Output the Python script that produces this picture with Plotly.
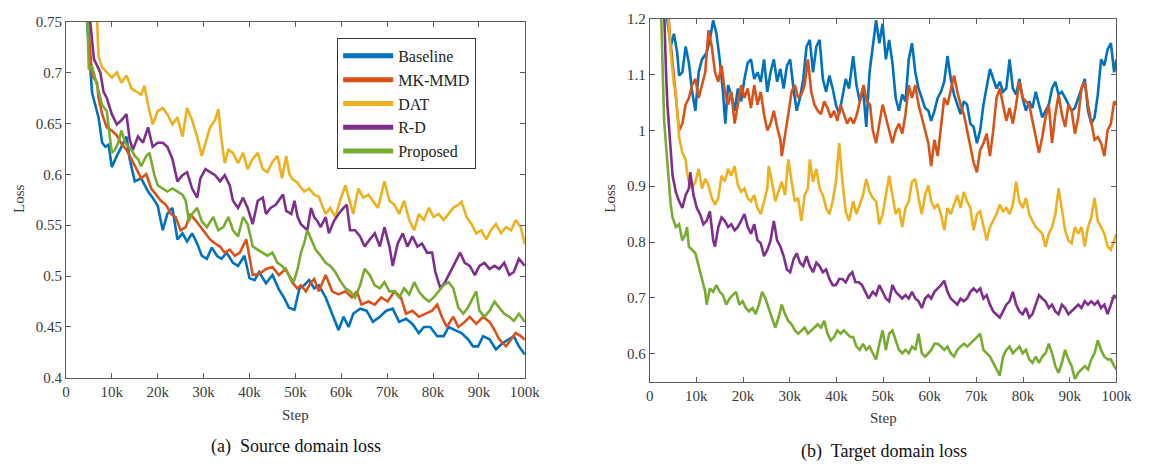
import plotly.graph_objects as go

# ---------------- data (step in thousands, loss) ----------------
series_names = ["Baseline", "MK-MMD", "DAT", "R-D", "Proposed"]
series_colors = ["#0072BD", "#D95319", "#EDB120", "#7E2F8E", "#77AC30"]

src_baseline = [(3.0,0.90),(4.6,0.750),(5.7,0.680),(7.1,0.656),(7.9,0.631),(8.6,0.627),(9.3,0.629),(10.0,0.607),(11.1,0.618),(12.1,0.627),(13.2,0.637),(13.9,0.615),(15.0,0.593),(16.4,0.596),(17.9,0.583),(18.9,0.577),(20.0,0.569),(21.1,0.545),(22.1,0.561),(23.2,0.567),(24.3,0.536),(25.4,0.542),(26.4,0.534),(27.5,0.542),(28.6,0.532),(29.6,0.520),(30.7,0.517),(31.8,0.528),(32.9,0.520),(33.9,0.517),(35.0,0.523),(36.4,0.513),(37.5,0.510),(38.9,0.520),(40.0,0.498),(41.1,0.496),(42.1,0.504),(43.6,0.493),(45.0,0.501),(46.4,0.487),(47.5,0.479),(48.6,0.469),(49.8,0.467),(50.9,0.488),(51.9,0.491),(53.0,0.496),(54.1,0.488),(55.1,0.491),(56.6,0.479),(58.0,0.463),(59.4,0.447),(60.5,0.460),(61.6,0.450),(62.6,0.463),(64.1,0.468),(65.5,0.466),(66.9,0.455),(68.4,0.460),(69.8,0.466),(71.2,0.468),(72.6,0.455),(74.1,0.458),(75.5,0.453),(76.9,0.444),(78.0,0.450),(79.4,0.450),(80.9,0.441),(82.3,0.441),(83.4,0.450),(84.8,0.447),(86.2,0.444),(87.6,0.438),(88.7,0.431),(89.8,0.431),(90.9,0.441),(92.3,0.438),(93.7,0.428),(95.1,0.434),(96.6,0.438),(97.6,0.441),(98.7,0.431),(100.0,0.423)]

src_mkmmd = [(3.0,0.90),(4.8,0.750),(5.7,0.697),(6.8,0.690),(7.1,0.675),(7.9,0.659),(8.9,0.646),(10.0,0.643),(11.1,0.638),(12.1,0.630),(13.2,0.624),(14.3,0.615),(15.4,0.605),(16.4,0.596),(17.5,0.600),(18.6,0.586),(19.6,0.580),(20.7,0.574),(21.8,0.570),(22.9,0.561),(23.9,0.558),(25.0,0.545),(26.1,0.548),(27.1,0.561),(28.2,0.555),(29.3,0.548),(30.4,0.542),(31.4,0.536),(32.5,0.532),(33.6,0.529),(34.6,0.523),(35.7,0.526),(36.8,0.520),(37.9,0.523),(39.3,0.536),(40.7,0.501),(42.1,0.502),(43.6,0.507),(45.0,0.509),(46.4,0.501),(47.9,0.507),(49.3,0.494),(50.4,0.488),(51.2,0.491),(52.3,0.485),(53.4,0.494),(54.1,0.497),(55.1,0.485),(56.6,0.501),(58.0,0.485),(59.4,0.482),(60.9,0.485),(62.3,0.479),(63.4,0.485),(64.4,0.472),(65.9,0.475),(67.3,0.472),(68.7,0.479),(70.1,0.475),(71.6,0.485),(73.0,0.479),(74.1,0.463),(75.5,0.466),(76.9,0.460),(78.4,0.463),(79.8,0.466),(80.9,0.472),(81.9,0.460),(83.0,0.450),(84.4,0.460),(85.5,0.450),(86.9,0.455),(88.0,0.460),(89.4,0.453),(90.9,0.460),(92.3,0.455),(93.4,0.447),(94.4,0.438),(95.9,0.431),(97.0,0.438),(98.0,0.444),(99.1,0.441),(100.0,0.4375)]

src_dat = [(5.5,0.90),(6.8,0.750),(7.1,0.716),(7.9,0.705),(8.9,0.700),(10.0,0.695),(11.1,0.700),(12.1,0.690),(13.2,0.697),(14.3,0.684),(15.4,0.681),(16.4,0.678),(17.1,0.687),(17.9,0.668),(18.9,0.649),(20.0,0.662),(21.1,0.665),(22.1,0.659),(23.2,0.649),(24.3,0.656),(25.4,0.637),(26.4,0.665),(27.5,0.653),(28.6,0.637),(29.6,0.618),(30.4,0.631),(31.4,0.646),(32.5,0.653),(33.2,0.664),(33.9,0.634),(34.6,0.611),(35.4,0.624),(36.4,0.621),(37.5,0.611),(38.6,0.621),(39.6,0.605),(40.7,0.615),(41.8,0.621),(42.9,0.605),(43.9,0.602),(45.0,0.612),(46.1,0.618),(47.1,0.596),(48.0,0.618),(48.7,0.600),(49.4,0.595),(50.4,0.592),(51.9,0.583),(53.0,0.586),(54.1,0.580),(55.1,0.578),(56.6,0.561),(57.6,0.567),(58.7,0.558),(59.8,0.575),(60.9,0.589),(61.6,0.577),(62.6,0.561),(63.7,0.586),(64.8,0.577),(65.9,0.580),(66.9,0.574),(68.0,0.567),(69.4,0.593),(70.5,0.574),(71.6,0.570),(72.6,0.561),(73.7,0.574),(74.8,0.555),(75.9,0.545),(76.9,0.561),(78.0,0.555),(79.1,0.567),(80.1,0.558),(81.2,0.561),(82.3,0.555),(83.4,0.561),(84.4,0.567),(85.5,0.570),(86.2,0.573),(87.3,0.558),(88.4,0.551),(89.4,0.542),(90.5,0.545),(91.6,0.536),(92.6,0.545),(93.7,0.551),(94.8,0.542),(95.9,0.548),(97.0,0.545),(98.0,0.555),(99.1,0.548),(100.0,0.531)]

src_rd = [(3.5,0.90),(5.3,0.750),(6.1,0.713),(6.8,0.706),(7.5,0.700),(8.2,0.681),(8.9,0.675),(10.0,0.659),(11.1,0.649),(12.1,0.653),(13.2,0.659),(13.9,0.634),(14.6,0.624),(15.7,0.637),(16.8,0.631),(17.9,0.646),(18.9,0.627),(20.0,0.631),(21.1,0.631),(22.1,0.627),(23.2,0.615),(24.3,0.593),(25.4,0.599),(26.4,0.602),(27.5,0.586),(28.6,0.577),(29.3,0.596),(30.4,0.605),(31.4,0.602),(32.5,0.599),(33.6,0.593),(34.6,0.599),(35.7,0.589),(36.4,0.574),(37.5,0.567),(38.6,0.577),(39.6,0.567),(40.7,0.551),(41.8,0.574),(42.9,0.577),(43.6,0.561),(44.6,0.567),(45.7,0.570),(46.8,0.577),(47.3,0.580),(48.0,0.564),(49.1,0.561),(49.8,0.574),(50.5,0.558),(51.2,0.551),(51.9,0.548),(52.6,0.545),(53.4,0.567),(54.1,0.558),(54.8,0.554),(55.5,0.548),(56.6,0.558),(57.3,0.542),(58.4,0.554),(59.4,0.561),(60.5,0.567),(61.2,0.570),(61.9,0.545),(63.0,0.545),(64.1,0.539),(65.1,0.529),(66.2,0.536),(67.3,0.542),(68.4,0.529),(69.4,0.548),(70.5,0.529),(71.2,0.510),(72.3,0.532),(73.4,0.542),(74.4,0.529),(75.5,0.539),(76.6,0.529),(77.6,0.532),(78.7,0.523),(79.8,0.523),(80.5,0.504),(81.6,0.488),(82.6,0.494),(83.7,0.504),(84.8,0.513),(85.9,0.523),(86.9,0.513),(88.0,0.510),(89.1,0.501),(90.1,0.510),(91.2,0.513),(92.3,0.507),(93.4,0.510),(94.4,0.507),(95.5,0.513),(96.6,0.501),(97.6,0.504),(98.7,0.517),(100.0,0.510)]

src_proposed = [(3.0,0.90),(4.7,0.750),(5.0,0.703),(5.7,0.706),(6.4,0.694),(7.1,0.681),(7.9,0.668),(8.9,0.662),(9.6,0.637),(10.0,0.621),(10.7,0.624),(11.4,0.631),(12.1,0.643),(12.9,0.631),(13.6,0.627),(14.3,0.624),(15.0,0.618),(15.7,0.615),(16.4,0.608),(17.5,0.618),(18.2,0.621),(19.3,0.599),(20.0,0.589),(21.1,0.586),(22.1,0.583),(23.2,0.586),(24.3,0.583),(25.4,0.580),(26.1,0.574),(26.8,0.554),(27.5,0.561),(28.6,0.567),(29.6,0.554),(30.7,0.548),(32.1,0.558),(33.2,0.545),(34.3,0.548),(35.4,0.558),(36.4,0.545),(37.5,0.539),(38.6,0.558),(39.6,0.551),(40.7,0.529),(41.8,0.526),(42.9,0.523),(43.9,0.520),(45.0,0.523),(46.1,0.513),(47.1,0.510),(48.2,0.504),(49.6,0.494),(50.5,0.507),(51.2,0.523),(51.9,0.532),(52.6,0.545),(53.4,0.536),(54.4,0.526),(55.5,0.520),(56.6,0.513),(57.6,0.510),(58.7,0.504),(59.8,0.495),(60.9,0.488),(61.9,0.485),(63.0,0.479),(64.1,0.491),(65.1,0.507),(66.2,0.501),(67.3,0.491),(68.4,0.488),(69.4,0.494),(70.5,0.485),(71.6,0.485),(72.6,0.479),(73.7,0.488),(74.8,0.482),(75.9,0.494),(76.9,0.485),(78.0,0.479),(79.1,0.475),(80.1,0.479),(81.2,0.485),(82.3,0.491),(83.4,0.494),(84.4,0.488),(85.5,0.469),(86.6,0.463),(87.6,0.469),(88.7,0.479),(89.4,0.485),(90.1,0.466),(91.2,0.460),(92.3,0.466),(93.4,0.475),(94.4,0.469),(95.5,0.463),(96.6,0.460),(97.6,0.456),(98.7,0.463),(100.0,0.455)]

tgt_baseline = [(2.5,1.35),(3.8,1.197),(4.5,1.150),(5.2,1.173),(5.9,1.139),(6.3,1.098),(7.0,1.104),(7.7,1.150),(8.4,1.121),(9.1,1.069),(9.8,1.035),(10.5,1.104),(11.2,1.127),(12.2,1.139),(12.9,1.162),(13.6,1.197),(14.3,1.173),(15.0,1.127),(15.7,1.069),(16.2,1.012),(16.8,1.081),(17.5,1.064),(18.2,1.035),(18.9,1.075),(19.6,1.052),(20.3,1.092),(21.0,1.121),(21.7,1.127),(22.4,1.092),(23.1,1.104),(23.8,1.087),(24.5,1.127),(25.2,1.069),(25.9,1.104),(26.6,1.127),(27.3,1.087),(28.0,1.110),(28.7,1.075),(29.4,1.116),(30.1,1.127),(30.8,1.075),(31.5,1.035),(32.2,1.058),(32.9,1.092),(33.6,1.150),(34.3,1.162),(35.0,1.104),(35.7,1.150),(36.4,1.162),(37.1,1.092),(37.8,1.069),(38.5,1.098),(39.2,1.075),(39.9,1.046),(40.6,1.029),(41.3,1.064),(42.0,1.092),(42.7,1.075),(43.6,1.133),(44.3,1.081),(45.0,1.052),(45.7,1.075),(46.4,1.006),(47.1,1.104),(47.8,1.150),(48.5,1.197),(49.2,1.156),(49.9,1.191),(50.6,1.127),(51.3,1.162),(52.0,1.121),(52.7,1.058),(53.4,1.035),(54.1,1.064),(54.8,1.052),(55.5,1.127),(56.2,1.156),(56.9,1.104),(57.6,1.075),(58.3,1.058),(59.0,1.040),(59.7,1.035),(60.3,1.017),(61.0,1.035),(61.7,1.058),(62.4,1.069),(63.1,1.087),(63.8,1.133),(64.5,1.092),(65.2,1.064),(65.9,1.046),(66.6,1.029),(67.3,1.052),(68.0,1.046),(68.7,1.012),(69.4,1.006),(70.1,0.977),(70.8,1.000),(71.5,1.046),(72.2,1.075),(72.9,1.110),(73.6,1.092),(74.3,1.075),(75.0,1.087),(75.7,1.069),(76.4,1.075),(77.1,1.127),(77.8,1.075),(78.5,1.064),(79.2,1.092),(79.9,1.058),(80.6,1.035),(81.3,1.052),(82.0,1.040),(82.7,1.069),(83.4,1.046),(84.1,1.023),(84.8,1.035),(85.5,1.046),(86.2,1.075),(86.9,1.087),(87.6,1.064),(88.3,1.069),(89.0,1.058),(89.7,1.046),(90.4,1.035),(91.1,1.040),(91.8,1.058),(92.5,1.075),(93.2,1.092),(93.9,1.035),(94.6,1.012),(95.3,1.023),(96.0,1.064),(96.7,1.127),(97.4,1.116),(98.1,1.145),(98.8,1.156),(99.5,1.104),(100.0,1.127)]

tgt_mkmmd = [(3.0,1.35),(4.3,1.173),(4.9,1.121),(5.6,1.058),(6.3,1.000),(7.0,1.012),(7.7,1.046),(8.4,1.058),(9.1,1.081),(9.8,1.092),(10.5,1.058),(11.2,1.081),(11.9,1.104),(12.6,1.179),(13.3,1.150),(14.0,1.104),(14.7,1.087),(15.4,1.116),(16.1,1.069),(16.8,1.046),(17.5,1.069),(18.2,1.012),(18.9,1.046),(19.6,1.081),(20.3,1.058),(21.0,1.075),(21.7,1.040),(22.4,1.081),(23.1,1.046),(23.8,1.069),(24.5,1.029),(25.2,1.000),(25.9,1.012),(26.6,1.035),(27.3,1.006),(28.0,0.983),(28.3,0.954),(29.0,0.988),(29.7,1.029),(30.4,1.069),(31.1,1.081),(31.8,1.058),(32.5,1.064),(33.2,1.081),(33.9,1.127),(34.6,1.069),(35.3,1.046),(36.0,1.035),(36.7,1.029),(37.4,1.052),(38.1,1.040),(38.8,1.023),(39.5,1.035),(40.2,1.017),(40.9,1.046),(41.6,1.029),(42.3,1.012),(43.0,1.023),(43.7,1.012),(44.4,1.029),(45.1,1.058),(45.8,1.081),(46.5,1.052),(47.2,1.046),(47.8,1.000),(48.5,0.977),(49.2,1.012),(49.9,1.046),(50.6,1.023),(51.3,1.000),(52.0,0.977),(52.7,1.000),(53.4,1.012),(54.1,0.994),(54.8,1.029),(55.5,1.081),(56.2,1.058),(56.9,1.081),(57.6,1.046),(58.3,1.023),(59.0,1.000),(59.7,0.977),(60.3,0.936),(61.0,0.983),(61.7,0.954),(62.4,1.012),(63.1,1.058),(63.8,1.046),(64.5,1.075),(65.2,1.098),(65.9,1.069),(66.6,1.046),(67.3,1.029),(68.0,1.000),(68.7,0.971),(69.4,0.942),(70.1,0.925),(70.8,0.965),(71.5,0.977),(72.2,0.994),(72.9,0.954),(73.6,1.000),(74.3,1.058),(75.0,1.075),(75.7,1.046),(76.4,1.017),(77.1,1.040),(77.8,1.012),(78.5,1.046),(79.2,1.087),(79.9,1.058),(80.6,1.052),(81.3,1.046),(82.0,1.017),(82.7,0.988),(83.4,0.960),(84.1,0.988),(84.8,1.023),(85.5,1.046),(86.2,0.977),(86.9,1.029),(87.6,1.064),(88.3,1.029),(89.0,1.006),(89.7,1.046),(90.4,1.035),(91.1,0.994),(91.8,1.023),(92.5,1.075),(93.2,1.087),(93.9,1.046),(94.6,1.012),(95.3,0.983),(96.0,0.988),(96.7,0.977),(97.4,0.954),(98.1,1.000),(98.8,1.012),(99.5,1.052),(100.0,1.046)]

tgt_dat = [(2.8,1.35),(4.2,1.179),(4.5,1.139),(5.2,1.081),(5.6,1.069),(6.3,0.988),(6.6,0.977),(7.0,0.960),(7.7,0.948),(8.0,0.925),(8.4,0.908),(9.1,0.896),(9.8,0.908),(10.5,0.931),(11.2,0.896),(11.9,0.913),(12.6,0.902),(13.3,0.879),(14.0,0.867),(14.7,0.879),(15.4,0.919),(16.1,0.908),(16.8,0.931),(17.5,0.919),(18.2,0.936),(18.9,0.902),(19.6,0.890),(20.3,0.896),(21.0,0.879),(21.7,0.873),(22.4,0.884),(23.1,0.861),(23.8,0.850),(24.5,0.873),(25.2,0.896),(25.5,0.936),(26.2,0.908),(26.9,0.873),(27.6,0.890),(28.3,0.908),(29.0,0.884),(29.7,0.948),(30.4,0.908),(31.1,0.873),(31.8,0.879),(32.5,0.838),(33.2,0.884),(33.9,0.896),(34.3,0.948),(35.0,0.908),(35.7,0.931),(36.4,0.896),(37.1,0.884),(37.8,0.861),(38.5,0.850),(39.2,0.873),(39.9,0.908),(40.6,0.977),(41.3,0.908),(42.0,0.855),(42.7,0.838),(43.6,0.873),(44.3,0.850),(45.0,0.867),(45.7,0.884),(46.4,0.913),(47.1,0.890),(47.8,0.879),(48.5,0.873),(49.2,0.832),(49.9,0.850),(50.6,0.884),(51.3,0.919),(52.0,0.884),(52.7,0.850),(53.4,0.861),(54.1,0.827),(54.8,0.861),(55.5,0.873),(56.2,0.908),(56.9,0.913),(57.6,0.879),(58.3,0.850),(59.0,0.884),(59.7,0.902),(60.3,0.873),(61.0,0.861),(61.7,0.867),(62.4,0.850),(63.1,0.821),(63.8,0.861),(64.5,0.850),(65.2,0.867),(65.9,0.884),(66.6,0.861),(67.3,0.890),(68.0,0.873),(68.7,0.861),(69.4,0.821),(70.1,0.850),(70.8,0.855),(71.5,0.827),(72.2,0.803),(72.9,0.827),(73.6,0.838),(74.3,0.850),(75.0,0.867),(75.7,0.855),(76.4,0.861),(77.1,0.850),(77.8,0.867),(78.5,0.908),(79.2,0.873),(79.9,0.861),(80.6,0.879),(81.3,0.850),(82.0,0.838),(82.7,0.827),(83.4,0.821),(84.1,0.815),(84.8,0.792),(85.5,0.815),(86.2,0.827),(86.9,0.850),(87.6,0.896),(88.3,0.861),(89.0,0.821),(89.7,0.803),(90.4,0.798),(91.1,0.827),(91.8,0.815),(92.5,0.827),(93.2,0.792),(93.9,0.827),(94.6,0.844),(95.3,0.879),(96.0,0.838),(96.7,0.827),(97.4,0.815),(98.1,0.792),(98.8,0.786),(99.5,0.803),(100.0,0.815)]

tgt_rd = [(2.6,1.35),(3.1,1.200),(3.5,1.104),(3.8,1.046),(4.2,1.000),(4.5,0.954),(4.9,0.919),(5.6,0.890),(6.3,0.873),(7.0,0.861),(7.7,0.884),(8.4,0.896),(8.7,0.925),(9.4,0.884),(10.1,0.861),(10.8,0.850),(11.5,0.832),(12.2,0.838),(12.9,0.855),(13.6,0.803),(14.0,0.792),(14.7,0.827),(15.4,0.844),(16.1,0.838),(16.8,0.827),(17.5,0.832),(18.2,0.821),(18.9,0.827),(19.6,0.838),(20.3,0.850),(21.0,0.827),(21.7,0.815),(22.4,0.832),(23.1,0.803),(23.8,0.798),(24.5,0.775),(25.2,0.786),(25.9,0.803),(26.6,0.838),(27.3,0.803),(28.0,0.792),(28.7,0.775),(29.4,0.751),(30.1,0.746),(30.8,0.769),(31.5,0.780),(32.2,0.763),(32.9,0.757),(33.6,0.775),(34.3,0.757),(35.0,0.746),(35.7,0.763),(36.4,0.757),(37.1,0.746),(37.8,0.751),(38.5,0.734),(39.2,0.723),(39.9,0.723),(40.6,0.734),(41.3,0.734),(42.0,0.728),(42.7,0.740),(43.4,0.746),(44.1,0.728),(44.8,0.728),(45.5,0.723),(46.2,0.711),(46.9,0.699),(47.8,0.711),(48.5,0.705),(49.2,0.723),(49.9,0.711),(50.6,0.699),(51.3,0.694),(52.0,0.723),(52.7,0.711),(53.4,0.705),(54.1,0.699),(54.8,0.705),(55.5,0.699),(56.2,0.711),(56.9,0.699),(57.6,0.694),(58.3,0.682),(59.0,0.699),(59.7,0.705),(60.3,0.699),(61.0,0.711),(61.7,0.717),(62.4,0.723),(63.1,0.731),(63.8,0.711),(64.5,0.699),(65.2,0.694),(65.9,0.688),(66.6,0.699),(67.3,0.694),(68.0,0.699),(68.7,0.711),(69.4,0.717),(70.1,0.711),(70.8,0.717),(71.5,0.699),(72.2,0.705),(72.9,0.688),(73.6,0.676),(74.3,0.671),(75.0,0.665),(75.7,0.676),(76.4,0.688),(77.1,0.694),(77.8,0.711),(78.5,0.688),(79.2,0.676),(79.9,0.671),(80.6,0.682),(81.3,0.665),(82.0,0.671),(82.7,0.688),(83.4,0.705),(84.1,0.699),(84.8,0.694),(85.5,0.682),(86.2,0.688),(86.9,0.676),(87.6,0.671),(88.3,0.688),(89.0,0.682),(89.7,0.671),(90.4,0.676),(91.1,0.682),(91.8,0.688),(92.5,0.682),(93.2,0.694),(93.9,0.688),(94.6,0.694),(95.3,0.688),(96.0,0.694),(96.7,0.682),(97.4,0.688),(98.1,0.671),(98.8,0.688),(99.5,0.705),(100.0,0.699)]

tgt_proposed = [(2.0,1.35),(2.4,1.200),(2.8,1.104),(3.1,1.017),(3.5,0.977),(3.8,0.942),(4.2,0.902),(4.5,0.867),(4.9,0.844),(5.6,0.827),(6.3,0.832),(7.0,0.803),(7.7,0.815),(8.0,0.827),(8.4,0.792),(9.1,0.786),(9.8,0.780),(10.5,0.757),(11.2,0.734),(11.9,0.711),(12.2,0.688),(12.9,0.717),(13.6,0.711),(14.3,0.723),(15.0,0.711),(15.7,0.705),(16.4,0.688),(17.1,0.699),(17.8,0.705),(18.5,0.711),(19.2,0.688),(19.9,0.694),(20.6,0.682),(21.3,0.676),(22.0,0.682),(22.7,0.671),(23.4,0.688),(24.1,0.711),(24.8,0.699),(25.5,0.682),(26.2,0.665),(26.9,0.647),(27.6,0.665),(28.3,0.688),(29.0,0.671),(29.7,0.659),(30.4,0.653),(31.1,0.642),(31.8,0.636),(32.5,0.642),(33.2,0.647),(33.9,0.636),(34.6,0.642),(35.3,0.647),(36.0,0.653),(36.7,0.647),(37.4,0.659),(38.1,0.636),(38.8,0.624),(39.5,0.630),(40.2,0.642),(40.9,0.636),(41.6,0.642),(42.3,0.636),(43.0,0.630),(43.6,0.630),(44.3,0.613),(45.0,0.607),(45.7,0.618),(46.4,0.607),(47.1,0.613),(47.8,0.601),(48.5,0.590),(49.2,0.618),(49.9,0.642),(50.6,0.607),(51.3,0.636),(52.0,0.642),(52.7,0.624),(53.4,0.607),(54.1,0.601),(54.8,0.607),(55.5,0.601),(56.2,0.613),(56.9,0.607),(57.6,0.636),(58.3,0.601),(59.0,0.595),(59.7,0.601),(60.3,0.607),(61.0,0.618),(61.7,0.618),(62.4,0.613),(63.1,0.607),(63.8,0.613),(64.5,0.601),(65.2,0.595),(65.9,0.607),(66.6,0.613),(67.3,0.618),(68.0,0.613),(68.7,0.618),(69.4,0.624),(70.1,0.630),(70.8,0.636),(71.5,0.607),(72.2,0.601),(72.9,0.595),(73.6,0.584),(74.3,0.572),(75.0,0.561),(75.7,0.595),(76.4,0.607),(77.1,0.613),(77.8,0.601),(78.5,0.607),(79.2,0.613),(79.9,0.601),(80.6,0.607),(81.3,0.590),(82.0,0.584),(82.7,0.595),(83.4,0.584),(84.1,0.595),(84.8,0.601),(85.5,0.618),(86.2,0.601),(86.9,0.578),(87.6,0.566),(88.3,0.584),(89.0,0.607),(89.7,0.590),(90.4,0.578),(91.1,0.555),(91.8,0.566),(92.5,0.572),(93.2,0.578),(93.9,0.572),(94.6,0.590),(95.3,0.601),(96.0,0.624),(96.7,0.607),(97.4,0.595),(98.1,0.590),(98.8,0.590),(99.5,0.578),(100.0,0.572)]

source_series = [src_baseline, src_mkmmd, src_dat, src_rd, src_proposed]
target_series = [tgt_baseline, tgt_mkmmd, tgt_dat, tgt_rd, tgt_proposed]

x_tickvals = [0, 10, 20, 30, 40, 50, 60, 70, 80, 90, 100]
x_ticktext = ["0", "10k", "20k", "30k", "40k", "50k", "60k", "70k", "80k", "90k", "100k"]
src_y_ticks = [0.4, 0.45, 0.5, 0.55, 0.6, 0.65, 0.7, 0.75]
src_y_text = ["0.4", "0.45", "0.5", "0.55", "0.6", "0.65", "0.7", "0.75"]
tgt_y_ticks = [0.6, 0.7, 0.8, 0.9, 1.0, 1.1, 1.2]
tgt_y_text = ["0.6", "0.7", "0.8", "0.9", "1", "1.1", "1.2"]

# ---------------- figure ----------------
W, H = 1160, 468
FONT = "Liberation Serif"
AXC = "#5a5a5a"
TXT = "#383838"

fig = go.Figure()

for name, color, pts in zip(series_names, series_colors, source_series):
    fig.add_trace(go.Scatter(x=[p[0] for p in pts], y=[p[1] for p in pts], mode="lines",
                             line=dict(color=color, width=2.6), name=name, showlegend=False,
                             xaxis="x", yaxis="y"))
for name, color, pts in zip(series_names, series_colors, target_series):
    fig.add_trace(go.Scatter(x=[p[0] for p in pts], y=[p[1] for p in pts], mode="lines",
                             line=dict(color=color, width=2.6), name=name, showlegend=False,
                             xaxis="x2", yaxis="y2"))
# legend entries (thicker line samples, as in the reference)
for name, color in zip(series_names, series_colors):
    fig.add_trace(go.Scatter(x=[None], y=[None], mode="lines", line=dict(color=color, width=5),
                             name=name, showlegend=True, xaxis="x", yaxis="y"))

def px_x(p):
    return p / W

def px_y(p):
    return 1 - p / H

axis_common = dict(showline=True, linecolor=AXC, linewidth=1, mirror="ticks", ticks="inside",
                   ticklen=5, tickcolor=AXC, showgrid=False, zeroline=False,
                   tickfont=dict(family=FONT, size=15, color=TXT))

fig.update_layout(
    width=W, height=H, margin=dict(l=0, r=0, t=0, b=0),
    paper_bgcolor="white", plot_bgcolor="white",
    font=dict(family=FONT, color=TXT),
    xaxis=dict(domain=[px_x(63), px_x(530)], range=[0, 100], tickvals=x_tickvals,
               ticktext=x_ticktext, anchor="y", **axis_common),
    yaxis=dict(domain=[px_y(383), px_y(14)], range=[0.4, 0.75], tickvals=src_y_ticks,
               ticktext=src_y_text, anchor="x", **axis_common),
    xaxis2=dict(domain=[px_x(657), px_x(1132)], range=[0, 100], tickvals=x_tickvals,
                ticktext=x_ticktext, anchor="y2", **axis_common),
    yaxis2=dict(domain=[px_y(387), px_y(11)], range=[0.55, 1.2], tickvals=tgt_y_ticks,
                ticktext=tgt_y_text, anchor="x2", **axis_common),
    legend=dict(x=px_x(339), y=px_y(31), xanchor="left", yanchor="top",
                bgcolor="white", bordercolor="#333333", borderwidth=1,
                font=dict(family=FONT, size=16, color="#222222"),
                itemwidth=50, tracegroupgap=0),
)

ann = [
    dict(text="Loss", x=px_x(16), y=px_y(197), textangle=-90, font=dict(size=15)),
    dict(text="Loss", x=px_x(617), y=px_y(197), textangle=-90, font=dict(size=15)),
    dict(text="Step", x=px_x(297), y=px_y(421), font=dict(size=15)),
    dict(text="Step", x=px_x(895), y=px_y(425), font=dict(size=15)),
    dict(text="(a)  Source domain loss", x=px_x(297), y=px_y(454), font=dict(size=18, color="#111111")),
    dict(text="(b)  Target domain loss", x=px_x(895), y=px_y(459), font=dict(size=18, color="#111111")),
]
for a in ann:
    fig.add_annotation(xref="paper", yref="paper", showarrow=False, xanchor="center",
                       yanchor="middle", font_family=FONT, **a)

fig.write_html("out.html")
